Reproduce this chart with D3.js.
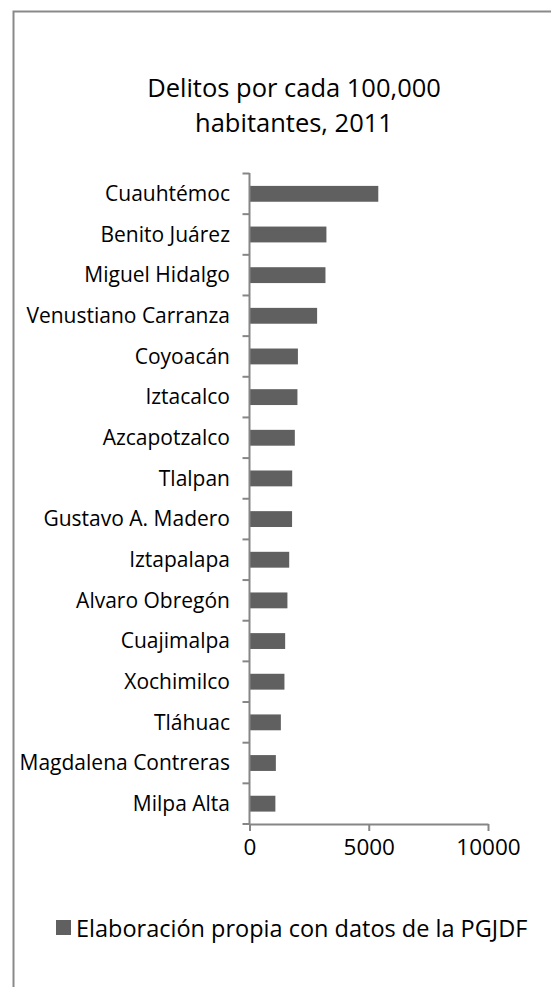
<!DOCTYPE html>
<html>
<head>
<meta charset="utf-8">
<script src="https://cdn.jsdelivr.net/npm/d3@7"></script>
<style>
  body { margin: 0; background: #fff; }
  svg text { font-family: "Open Sans", Lato, sans-serif; fill: #000; }
</style>
</head>
<body>
<div id="viz-container"></div>
<script>
// data
let delegaciones = ["Cuauhtémoc", "Benito Juárez", "Miguel Hidalgo", "Venustiano Carranza",
  "Coyoacán", "Iztacalco", "Azcapotzalco", "Tlalpan", "Gustavo A. Madero", "Iztapalapa",
  "Alvaro Obregón", "Cuajimalpa", "Xochimilco", "Tláhuac", "Magdalena Contreras", "Milpa Alta"];
let delitos = [5400, 3225, 3185, 2835, 2030, 2010, 1900, 1790, 1785, 1665,
  1590, 1495, 1465, 1315, 1105, 1085];
let xTicks = [0, 5000, 10000];
let titulo = ["Delitos por cada 100,000", "habitantes, 2011"];
let leyenda = "Elaboración propia con datos de la PGJDF";

let viz = d3.select("#viz-container")
  .append("svg")
    .attr("width", 551)
    .attr("height", 987);

// frame of the chart area (goes past the right and bottom edge)
viz.append("rect")
  .attr("x", 13.5).attr("y", 11.5)
  .attr("width", 700).attr("height", 1100)
  .attr("fill", "none")
  .attr("stroke", "#8a8a8a")
  .attr("stroke-width", 2);

let x = d3.scaleLinear().domain([0, 10000]).range([249.5, 488]);
let y = d3.scaleBand().domain(delegaciones).range([173.5, 824]).paddingInner(0.61).paddingOuter(0.305);

// title
viz.selectAll(".titulo").data(titulo).enter()
  .append("text")
    .attr("class", "titulo")
    .attr("x", 294)
    .attr("y", (d, i) => 97 + i * 35)
    .attr("text-anchor", "middle")
    .style("font-size", "25.5px")
    .text(d => d);

// bars
viz.selectAll(".bar").data(delegaciones).enter()
  .append("rect")
    .attr("class", "bar")
    .attr("x", x(0))
    .attr("y", d => y(d))
    .attr("width", (d, i) => x(delitos[i]) - x(0))
    .attr("height", y.bandwidth())
    .attr("fill", "#606060");

// category axis: line + ticks at band edges
let edges = delegaciones.map(d => y(d) - y.step() * y.paddingInner() / 2);
edges.push(824);
viz.append("line")
  .attr("x1", x(0)).attr("x2", x(0))
  .attr("y1", 173).attr("y2", 824)
  .attr("stroke", "#868686").attr("stroke-width", 2);
viz.selectAll(".ytick").data(edges).enter()
  .append("line")
    .attr("class", "ytick")
    .attr("x1", x(0) - 7).attr("x2", x(0))
    .attr("y1", d => d).attr("y2", d => d)
    .attr("stroke", "#868686").attr("stroke-width", 2);
viz.selectAll(".ylabel").data(delegaciones).enter()
  .append("text")
    .attr("class", "ylabel")
    .attr("x", 230)
    .attr("y", d => y(d) + y.bandwidth() / 2)
    .attr("dy", "0.35em")
    .attr("text-anchor", "end")
    .style("font-size", "21px")
    .text(d => d);

// value axis
let xAxis = viz.append("g")
  .attr("transform", "translate(0,824)")
  .call(d3.axisBottom(x).tickValues(xTicks).tickSize(7).tickPadding(8).tickSizeOuter(0).tickFormat(d3.format("d")));
xAxis.select(".domain").attr("stroke", "#868686").attr("stroke-width", 2);
xAxis.selectAll(".tick line").attr("stroke", "#868686").attr("stroke-width", 2);
xAxis.selectAll(".tick text").style("font-size", "22.5px").attr("fill", "#000")
  .style("font-family", "'Open Sans', Lato, sans-serif");

// legend
viz.append("rect")
  .attr("x", 56).attr("y", 920)
  .attr("width", 15).attr("height", 15)
  .attr("fill", "#606060");
viz.append("text")
  .attr("x", 76)
  .attr("y", 937)
  .style("font-size", "23.5px")
  .text(leyenda);
</script>
</body>
</html>
